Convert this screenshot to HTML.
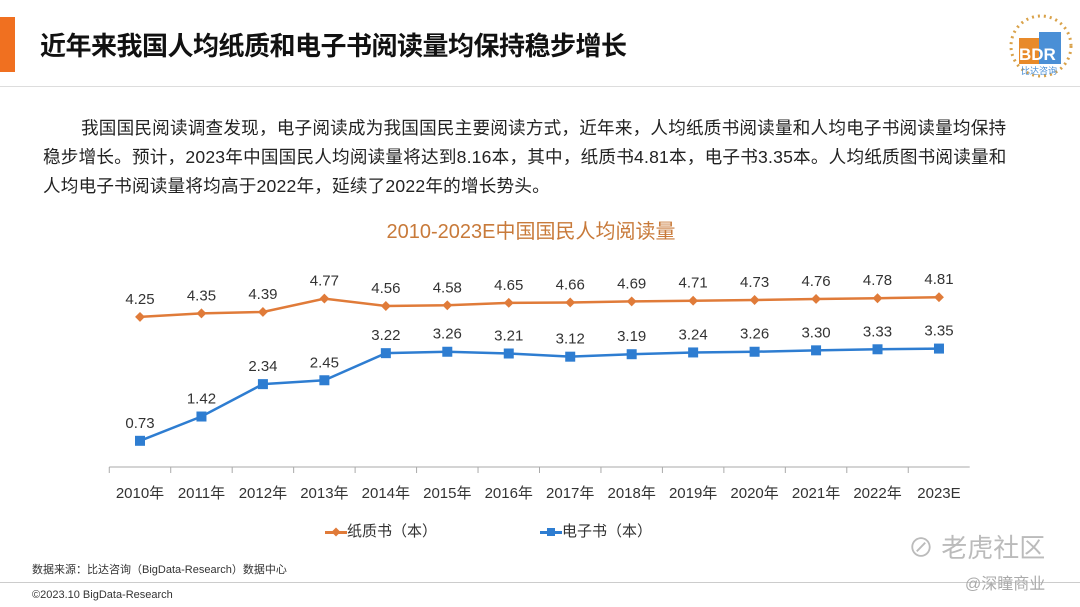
<!DOCTYPE html>
<html><head><meta charset="utf-8"><style>
body{margin:0;width:1080px;height:607px;background:#fff;overflow:hidden;font-family:"Liberation Sans","Noto Sans CJK SC",sans-serif;position:relative}
.abs{position:absolute}
</style></head><body>
<div class="abs" style="left:0;top:17px;width:15px;height:55px;background:#f07020"></div>
<div class="abs" style="left:40px;top:26px;font-size:26px;font-weight:bold;color:#111;letter-spacing:-0.5px">近年来我国人均纸质和电子书阅读量均保持稳步增长</div>
<div class="abs" style="left:1003px;top:10px;width:70px;height:70px">
<svg width="70" height="70"><circle cx="38" cy="36" r="30" fill="none" stroke="#d9a24a" stroke-width="3" stroke-dasharray="2 4"/>
<rect x="16" y="28" width="20" height="26" fill="#e88a2a"/><rect x="36" y="22" width="22" height="32" fill="#4a8fd6"/>
<text x="16" y="50" font-size="17" font-family="Liberation Sans" fill="#fff" font-weight="bold">BDR</text>
<text x="18" y="64" font-size="9" fill="#4a8fd6" font-family="Noto Sans CJK SC">比达咨询</text></svg></div>
<div class="abs" style="left:0;top:86px;width:1080px;height:1px;background:#ddd"></div>
<div class="abs" style="left:43px;top:114px;width:1040px;font-size:17.6px;line-height:29px;color:#222;white-space:nowrap;letter-spacing:0.2px"><span style="padding-left:38px"></span>我国国民阅读调查发现，电子阅读成为我国国民主要阅读方式，近年来，人均纸质书阅读量和人均电子书阅读量均保持<br>稳步增长。预计，2023年中国国民人均阅读量将达到8.16本，其中，纸质书4.81本，电子书3.35本。人均纸质图书阅读量和<br>人均电子书阅读量将均高于2022年，延续了2022年的增长势头。</div>
<div class="abs" style="left:0;width:1062px;text-align:center;top:215px;font-size:20px;color:#c87a3a">2010-2023E中国国民人均阅读量</div>
<svg class="abs" style="left:0;top:0" width="1080" height="607" id="chart"></svg>
<div class="abs" style="left:325px;top:520px;font-size:15px;color:#333"><span style="display:inline-block;width:22px;height:3px;background:#e07b39;vertical-align:middle;position:relative"><span style="position:absolute;left:7px;top:-3px;width:8px;height:8px;background:#e07b39;transform:rotate(45deg) scale(.8)"></span></span>纸质书（本）</div>
<div class="abs" style="left:540px;top:520px;font-size:15px;color:#333"><span style="display:inline-block;width:22px;height:3px;background:#2e7dd1;vertical-align:middle;position:relative"><span style="position:absolute;left:7px;top:-3px;width:8px;height:8px;background:#2e7dd1"></span></span>电子书（本）</div>
<div class="abs" style="left:32px;top:561px;font-size:11px;color:#333">数据来源：比达咨询（BigData-Research）数据中心</div>
<div class="abs" style="left:0;top:582px;width:1080px;height:1px;background:#ccc"></div>
<div class="abs" style="left:32px;top:589px;font-size:11px;color:#333">©2023.10 BigData-Research</div>
<div class="abs" style="left:908px;top:528px;font-size:26px;color:#bbb">⊘ 老虎社区</div>
<div class="abs" style="left:965px;top:570px;font-size:16px;color:#aaa">@深瞳商业</div>
<script>
const categories=["2010年","2011年","2012年","2013年","2014年","2015年","2016年","2017年","2018年","2019年","2020年","2021年","2022年","2023E"];
const paperValues=[4.25,4.35,4.39,4.77,4.56,4.58,4.65,4.66,4.69,4.71,4.73,4.76,4.78,4.81];
const ebookValues=[0.73,1.42,2.34,2.45,3.22,3.26,3.21,3.12,3.19,3.24,3.26,3.30,3.33,3.35];
const svg=document.getElementById('chart');const NS='http://www.w3.org/2000/svg';
const x0=140,step=61.46,y0=466.5,k=35.2;
const X=i=>x0+i*step, Y=v=>y0-v*k;
function mk(t,a,p){const e=document.createElementNS(NS,t);for(const n in a)e.setAttribute(n,a[n]);(p||svg).appendChild(e);return e;}
const ax=mk('line',{x1:X(-0.5),x2:X(categories.length-0.5),y1:467,y2:467,stroke:'#aaa','stroke-width':1});


categories.forEach((c,i)=>{
 const tk=mk('line',{x1:X(i-0.5),x2:X(i-0.5),y1:467,y2:473,stroke:'#aaa'});
 
 
 const t=mk('text',{x:X(i),y:498,'text-anchor':'middle','font-size':15,fill:'#333'});t.textContent=c;
 
 
});
function series(vals,color,name,marker){
 const l=mk('polyline',{points:vals.map((v,i)=>X(i)+','+Y(v)).join(' '),fill:'none',stroke:color,'stroke-width':2.5});
 
 
 vals.forEach((v,i)=>{
  let m;
  if(marker==='sq')m=mk('rect',{x:X(i)-5,y:Y(v)-5,width:10,height:10,fill:color});
  else m=mk('rect',{x:X(i)-3.5,y:Y(v)-3.5,width:7,height:7,fill:color,transform:`rotate(45 ${X(i)} ${Y(v)})`});
  
  
  const t=mk('text',{x:X(i),y:Y(v)-13,'text-anchor':'middle','font-size':15,fill:'#333'});t.textContent=v.toFixed(2);
  
  
 });
}
series(paperValues,'#e07b39','paper-book','dia');
series(ebookValues,'#2e7dd1','ebook','sq');
</script>
</body></html>
